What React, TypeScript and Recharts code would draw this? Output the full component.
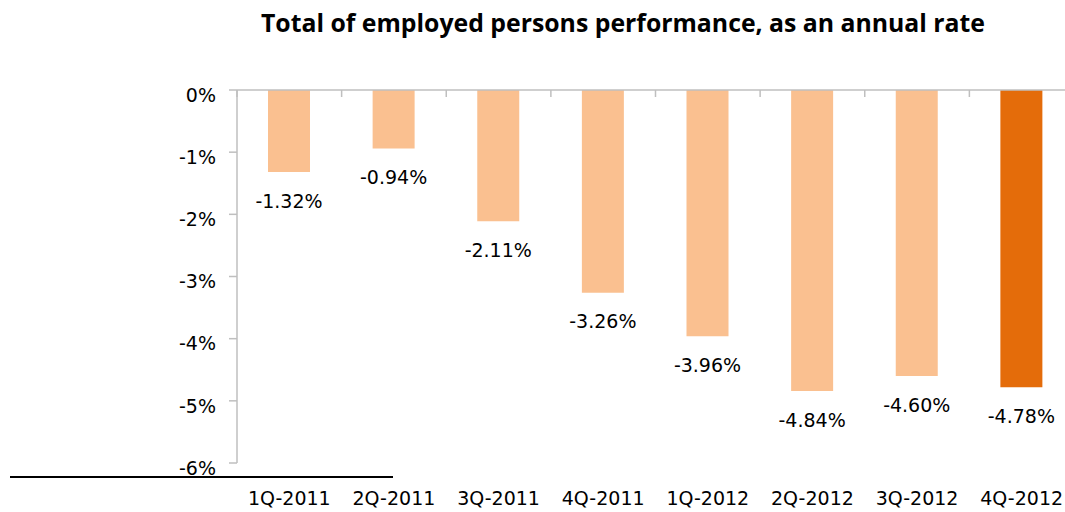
import { BarChart, Bar, XAxis, YAxis, Cell, LabelList } from 'recharts';

const quarters = ['1Q-2011', '2Q-2011', '3Q-2011', '4Q-2011', '1Q-2012', '2Q-2012', '3Q-2012', '4Q-2012'];
const rates = [-1.32, -0.94, -2.11, -3.26, -3.96, -4.84, -4.6, -4.78];
const yTicks = [0, -1, -2, -3, -4, -5, -6];

const LIGHT = '#FAC090';
const DARK = '#E46C0A';
const GRID = '#BFBFBF';
const FONT = '"DejaVu Sans", sans-serif';

// slot = centre of each category on a 0..n number line, used only for the edge ticks
const data = quarters.map((quarter, i) => ({ quarter, rate: rates[i], slot: i + 0.5 }));
const boundaries = quarters.map((_, i) => i).concat(quarters.length);

function BarLabel(props: any) {
  const { x, y, width, height, value } = props;
  const bottom = Math.max(y, y + height);
  return (
    <text
      x={x + width / 2}
      y={bottom + 29}
      dy="0.35em"
      textAnchor="middle"
      fontSize={19}
      fontFamily={FONT}
      fill="#000"
    >
      {`${Number(value).toFixed(2)}%`}
    </text>
  );
}

export default function App() {
  return (
    <div style={{ position: 'absolute', left: 0, top: 0, width: 1065, height: 512, overflow: 'hidden', background: '#fff' }}>
      <div
        style={{
          position: 'absolute',
          left: 123,
          top: 5,
          width: 1000,
          textAlign: 'center',
          fontFamily: '"Open Sans", sans-serif',
          fontWeight: 700,
          fontSize: 24.8,
          color: '#000',
        }}
      >
        Total of employed persons performance, as an annual rate
      </div>
      <div style={{ position: 'absolute', left: 10, top: 476, width: 383, height: 2, background: '#000' }} />
      <BarChart
        width={1082}
        height={512}
        data={data}
        margin={{ top: 90, right: 8, bottom: 0, left: 0 }}
        style={{ position: 'absolute', left: 0, top: 0 }}
      >
        <XAxis
          xAxisId="cat"
          dataKey="quarter"
          axisLine={false}
          tickLine={false}
          tickSize={0}
          tickMargin={29}
          height={49}
          interval={0}
          tick={{ fontSize: 19, fontFamily: FONT, fill: '#000' }}
        />
        <XAxis
          xAxisId="edges"
          dataKey="slot"
          type="number"
          orientation="top"
          domain={[0, quarters.length]}
          allowDataOverflow
          ticks={boundaries}
          interval={0}
          height={1}
          mirror
          tickSize={7}
          tickFormatter={() => ''}
          axisLine={{ stroke: GRID, strokeWidth: 1.5 }}
          tickLine={{ stroke: GRID, strokeWidth: 1.5 }}
        />
        <YAxis
          width={237}
          domain={[-6, 0]}
          ticks={yTicks}
          interval={0}
          tickSize={8}
          tickMargin={13}
          tickFormatter={(v: number) => `${v}%`}
          axisLine={{ stroke: GRID, strokeWidth: 1.5 }}
          tickLine={{ stroke: GRID, strokeWidth: 1.5 }}
          tick={{ fontSize: 19, fontFamily: FONT, fill: '#000', dy: 5 }}
        />
        <Bar dataKey="rate" xAxisId="cat" barSize={42} isAnimationActive={false}>
          {data.map((d, i) => (
            <Cell key={d.quarter} fill={i === data.length - 1 ? DARK : LIGHT} />
          ))}
          <LabelList dataKey="rate" content={BarLabel} />
        </Bar>
      </BarChart>
    </div>
  );
}
